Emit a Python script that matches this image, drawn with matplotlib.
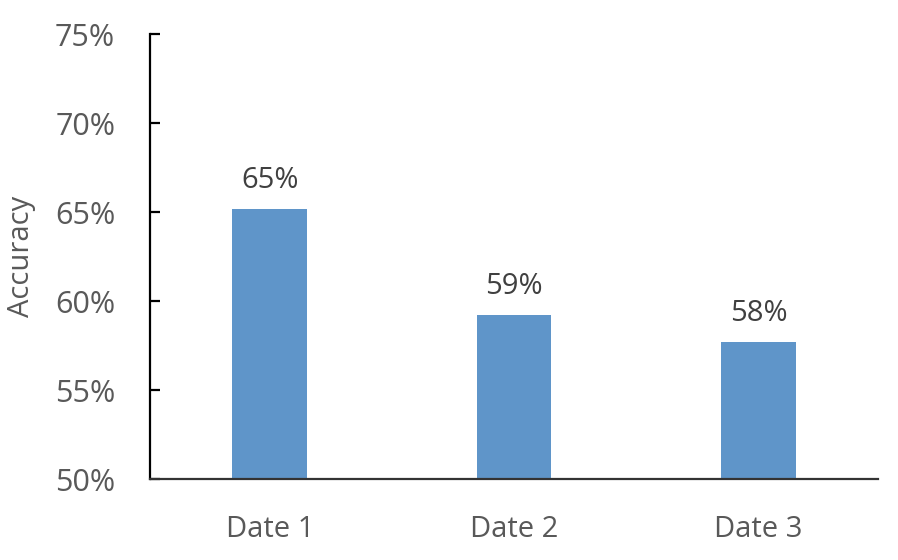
import matplotlib.pyplot as plt
from matplotlib.ticker import FuncFormatter

plt.rcParams["font.family"] = ["Open Sans", "DejaVu Sans"]

dates = ["Date 1", "Date 2", "Date 3"]
accuracy = [65.2, 59.2, 57.7]
bar_labels = ["65%", "59%", "58%"]
y_ticks = [50, 55, 60, 65, 70, 75]

fig = plt.figure(figsize=(8.98, 5.6), dpi=100)
ax = fig.add_axes([0.167, 0.1446, 0.811, 0.7944])

x = range(len(dates))
bars = ax.bar(x, accuracy, width=0.305, color="#5F95C9", zorder=2)

for b, lab in zip(bars, bar_labels):
    ax.annotate(lab, (b.get_x() + b.get_width() / 2, b.get_height()),
                xytext=(0, 10), textcoords="offset points",
                ha="center", va="bottom", fontsize=21, color="#404040")

ax.set_xlim(-0.49, 2.49)
ax.set_ylim(50, 75)
ax.set_yticks(y_ticks)
ax.yaxis.set_major_formatter(FuncFormatter(lambda v, p: f"{v:.0f}%"))
ax.set_xticks(list(x))
ax.set_xticklabels(dates)

ax.spines["top"].set_visible(False)
ax.spines["right"].set_visible(False)
ax.spines["left"].set_linewidth(1.6)
ax.spines["bottom"].set_linewidth(1.6)
ax.spines["bottom"].set_color("#333333")

ax.tick_params(axis="y", direction="in", length=7, width=1.6, pad=25,
               labelsize=22, labelcolor="#595959")
ax.tick_params(axis="x", length=0, pad=26, labelsize=21, labelcolor="#595959")

ax.set_ylabel("Accuracy", fontsize=21, color="#595959")
ax.yaxis.set_label_coords(-0.157, 0.5)

fig.savefig("out.png", dpi=100)
